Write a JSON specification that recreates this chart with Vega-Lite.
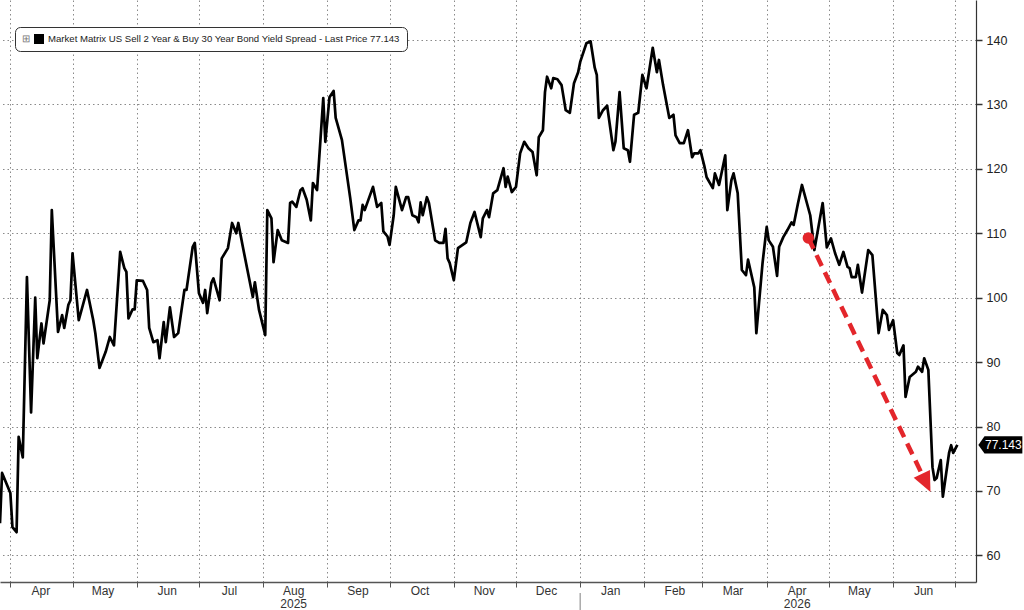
{
  "$schema": "https://vega.github.io/schema/vega-lite/v6.json",
  "width": 976,
  "height": 582,
  "autosize": "none",
  "padding": {"left": 0, "top": 0, "right": 48, "bottom": 28},
  "background": "#ffffff",
  "config": {"view": {"stroke": null}, "font": "Liberation Sans"},
  "layer": [
    {
      "data": {
        "values": [
          {"date": "2025-03-27", "value": 65.0}, {"date": "2025-03-28", "value": 72.8}, {"date": "2025-04-01", "value": 69.7},
          {"date": "2025-04-02", "value": 64.4}, {"date": "2025-04-04", "value": 63.6}, {"date": "2025-04-05", "value": 78.4},
          {"date": "2025-04-07", "value": 75.2}, {"date": "2025-04-09", "value": 103.2}, {"date": "2025-04-11", "value": 82.2},
          {"date": "2025-04-13", "value": 100.0}, {"date": "2025-04-14", "value": 90.6}, {"date": "2025-04-16", "value": 96.0},
          {"date": "2025-04-17", "value": 92.9}, {"date": "2025-04-20", "value": 99.6}, {"date": "2025-04-21", "value": 113.6},
          {"date": "2025-04-24", "value": 94.7}, {"date": "2025-04-26", "value": 97.3}, {"date": "2025-04-27", "value": 95.3},
          {"date": "2025-04-29", "value": 98.9}, {"date": "2025-04-30", "value": 99.6}, {"date": "2025-05-01", "value": 106.9},
          {"date": "2025-05-04", "value": 96.5}, {"date": "2025-05-08", "value": 101.2}, {"date": "2025-05-11", "value": 96.5},
          {"date": "2025-05-12", "value": 94.5}, {"date": "2025-05-14", "value": 89.1}, {"date": "2025-05-17", "value": 91.6},
          {"date": "2025-05-19", "value": 93.9}, {"date": "2025-05-21", "value": 92.6}, {"date": "2025-05-24", "value": 107.1},
          {"date": "2025-05-26", "value": 104.6}, {"date": "2025-05-27", "value": 104.0}, {"date": "2025-05-28", "value": 96.8},
          {"date": "2025-05-30", "value": 98.2}, {"date": "2025-05-31", "value": 98.2}, {"date": "2025-06-01", "value": 102.7},
          {"date": "2025-06-04", "value": 102.6}, {"date": "2025-06-06", "value": 101.2}, {"date": "2025-06-07", "value": 95.3},
          {"date": "2025-06-09", "value": 93.1}, {"date": "2025-06-11", "value": 93.4}, {"date": "2025-06-12", "value": 90.6},
          {"date": "2025-06-14", "value": 96.2}, {"date": "2025-06-15", "value": 93.1}, {"date": "2025-06-17", "value": 98.5},
          {"date": "2025-06-19", "value": 93.9}, {"date": "2025-06-21", "value": 94.5}, {"date": "2025-06-24", "value": 101.2},
          {"date": "2025-06-25", "value": 101.2}, {"date": "2025-06-28", "value": 107.9}, {"date": "2025-06-29", "value": 108.5},
          {"date": "2025-07-01", "value": 100.7}, {"date": "2025-07-03", "value": 99.2}, {"date": "2025-07-04", "value": 101.2},
          {"date": "2025-07-05", "value": 97.6}, {"date": "2025-07-07", "value": 102.3}, {"date": "2025-07-08", "value": 103.0},
          {"date": "2025-07-11", "value": 99.6}, {"date": "2025-07-12", "value": 106.1}, {"date": "2025-07-15", "value": 107.7},
          {"date": "2025-07-17", "value": 111.6}, {"date": "2025-07-19", "value": 110.0}, {"date": "2025-07-20", "value": 111.6},
          {"date": "2025-07-22", "value": 108.2}, {"date": "2025-07-27", "value": 100.1}, {"date": "2025-07-28", "value": 102.4},
          {"date": "2025-07-30", "value": 98.1}, {"date": "2025-08-02", "value": 94.2}, {"date": "2025-08-03", "value": 113.6},
          {"date": "2025-08-05", "value": 112.3}, {"date": "2025-08-06", "value": 105.5}, {"date": "2025-08-08", "value": 110.5},
          {"date": "2025-08-10", "value": 108.9}, {"date": "2025-08-13", "value": 108.5}, {"date": "2025-08-14", "value": 114.7},
          {"date": "2025-08-15", "value": 114.9}, {"date": "2025-08-17", "value": 114.1}, {"date": "2025-08-19", "value": 116.7},
          {"date": "2025-08-20", "value": 117.0}, {"date": "2025-08-22", "value": 115.2}, {"date": "2025-08-24", "value": 112.0},
          {"date": "2025-08-25", "value": 117.8}, {"date": "2025-08-27", "value": 116.7}, {"date": "2025-08-30", "value": 131.0},
          {"date": "2025-08-31", "value": 124.2}, {"date": "2025-09-02", "value": 131.1}, {"date": "2025-09-04", "value": 132.1},
          {"date": "2025-09-05", "value": 127.9}, {"date": "2025-09-08", "value": 124.5}, {"date": "2025-09-12", "value": 115.5},
          {"date": "2025-09-14", "value": 110.5}, {"date": "2025-09-16", "value": 112.0}, {"date": "2025-09-17", "value": 112.0},
          {"date": "2025-09-18", "value": 114.4}, {"date": "2025-09-19", "value": 113.6}, {"date": "2025-09-23", "value": 117.2},
          {"date": "2025-09-25", "value": 114.1}, {"date": "2025-09-27", "value": 114.7}, {"date": "2025-09-28", "value": 110.3},
          {"date": "2025-09-30", "value": 109.5}, {"date": "2025-10-01", "value": 108.2}, {"date": "2025-10-03", "value": 112.8},
          {"date": "2025-10-04", "value": 117.2}, {"date": "2025-10-07", "value": 113.6}, {"date": "2025-10-09", "value": 115.6},
          {"date": "2025-10-10", "value": 115.6}, {"date": "2025-10-12", "value": 112.8}, {"date": "2025-10-14", "value": 112.5},
          {"date": "2025-10-15", "value": 111.7}, {"date": "2025-10-16", "value": 114.8}, {"date": "2025-10-17", "value": 112.8},
          {"date": "2025-10-19", "value": 115.6}, {"date": "2025-10-20", "value": 114.7}, {"date": "2025-10-23", "value": 108.9},
          {"date": "2025-10-25", "value": 108.5}, {"date": "2025-10-27", "value": 108.5}, {"date": "2025-10-28", "value": 110.7},
          {"date": "2025-10-29", "value": 106.1}, {"date": "2025-10-30", "value": 105.4}, {"date": "2025-11-01", "value": 102.7},
          {"date": "2025-11-03", "value": 107.7}, {"date": "2025-11-07", "value": 108.6}, {"date": "2025-11-09", "value": 111.6},
          {"date": "2025-11-11", "value": 113.3}, {"date": "2025-11-14", "value": 109.4}, {"date": "2025-11-15", "value": 112.3},
          {"date": "2025-11-17", "value": 113.6}, {"date": "2025-11-18", "value": 112.5}, {"date": "2025-11-20", "value": 116.2},
          {"date": "2025-11-22", "value": 116.7}, {"date": "2025-11-25", "value": 120.1}, {"date": "2025-11-26", "value": 117.2},
          {"date": "2025-11-27", "value": 118.8}, {"date": "2025-11-29", "value": 116.4}, {"date": "2025-12-01", "value": 117.2},
          {"date": "2025-12-03", "value": 122.4}, {"date": "2025-12-05", "value": 124.2}, {"date": "2025-12-07", "value": 123.2},
          {"date": "2025-12-09", "value": 122.6}, {"date": "2025-12-11", "value": 119.0}, {"date": "2025-12-12", "value": 124.9},
          {"date": "2025-12-14", "value": 126.0}, {"date": "2025-12-15", "value": 131.9}, {"date": "2025-12-16", "value": 134.3},
          {"date": "2025-12-18", "value": 132.5}, {"date": "2025-12-19", "value": 134.1}, {"date": "2025-12-21", "value": 133.9},
          {"date": "2025-12-23", "value": 133.0}, {"date": "2025-12-25", "value": 129.1}, {"date": "2025-12-27", "value": 128.7},
          {"date": "2025-12-29", "value": 133.3}, {"date": "2025-12-31", "value": 135.0}, {"date": "2026-01-01", "value": 136.6},
          {"date": "2026-01-04", "value": 139.5}, {"date": "2026-01-06", "value": 139.8}, {"date": "2026-01-08", "value": 135.7},
          {"date": "2026-01-09", "value": 134.6}, {"date": "2026-01-10", "value": 127.9}, {"date": "2026-01-12", "value": 129.1},
          {"date": "2026-01-14", "value": 129.8}, {"date": "2026-01-17", "value": 122.9}, {"date": "2026-01-18", "value": 124.2},
          {"date": "2026-01-20", "value": 131.9}, {"date": "2026-01-22", "value": 123.2}, {"date": "2026-01-24", "value": 122.9},
          {"date": "2026-01-25", "value": 121.1}, {"date": "2026-01-27", "value": 128.4}, {"date": "2026-01-29", "value": 128.7},
          {"date": "2026-01-31", "value": 134.6}, {"date": "2026-02-02", "value": 132.5}, {"date": "2026-02-05", "value": 138.8},
          {"date": "2026-02-07", "value": 135.0}, {"date": "2026-02-08", "value": 136.9}, {"date": "2026-02-10", "value": 133.0},
          {"date": "2026-02-13", "value": 127.9}, {"date": "2026-02-15", "value": 128.4}, {"date": "2026-02-16", "value": 125.2},
          {"date": "2026-02-18", "value": 124.0}, {"date": "2026-02-20", "value": 124.0}, {"date": "2026-02-22", "value": 126.0},
          {"date": "2026-02-24", "value": 121.8}, {"date": "2026-02-25", "value": 122.4}, {"date": "2026-02-27", "value": 122.4},
          {"date": "2026-02-28", "value": 122.9}, {"date": "2026-03-02", "value": 120.3}, {"date": "2026-03-03", "value": 118.7},
          {"date": "2026-03-06", "value": 117.0}, {"date": "2026-03-07", "value": 119.3}, {"date": "2026-03-09", "value": 117.5},
          {"date": "2026-03-12", "value": 122.1}, {"date": "2026-03-13", "value": 113.6}, {"date": "2026-03-15", "value": 118.3},
          {"date": "2026-03-16", "value": 119.3}, {"date": "2026-03-18", "value": 116.2}, {"date": "2026-03-20", "value": 104.3},
          {"date": "2026-03-22", "value": 103.5}, {"date": "2026-03-23", "value": 105.9}, {"date": "2026-03-26", "value": 101.6},
          {"date": "2026-03-27", "value": 94.5}, {"date": "2026-03-30", "value": 105.4}, {"date": "2026-04-01", "value": 111.0},
          {"date": "2026-04-02", "value": 108.9}, {"date": "2026-04-04", "value": 107.9}, {"date": "2026-04-06", "value": 103.4},
          {"date": "2026-04-07", "value": 107.9}, {"date": "2026-04-09", "value": 109.4}, {"date": "2026-04-11", "value": 110.5},
          {"date": "2026-04-13", "value": 111.7}, {"date": "2026-04-14", "value": 111.3}, {"date": "2026-04-16", "value": 114.5},
          {"date": "2026-04-18", "value": 117.5}, {"date": "2026-04-22", "value": 112.8}, {"date": "2026-04-24", "value": 107.4},
          {"date": "2026-04-28", "value": 114.7}, {"date": "2026-04-30", "value": 107.8}, {"date": "2026-05-02", "value": 109.2},
          {"date": "2026-05-04", "value": 106.9}, {"date": "2026-05-06", "value": 105.1}, {"date": "2026-05-08", "value": 107.1},
          {"date": "2026-05-10", "value": 104.8}, {"date": "2026-05-11", "value": 104.6}, {"date": "2026-05-12", "value": 103.2},
          {"date": "2026-05-14", "value": 103.2}, {"date": "2026-05-15", "value": 105.1}, {"date": "2026-05-17", "value": 100.8},
          {"date": "2026-05-20", "value": 107.4}, {"date": "2026-05-22", "value": 106.6}, {"date": "2026-05-25", "value": 94.5},
          {"date": "2026-05-27", "value": 98.1}, {"date": "2026-05-29", "value": 97.3}, {"date": "2026-05-30", "value": 95.0},
          {"date": "2026-06-01", "value": 96.5}, {"date": "2026-06-03", "value": 91.4}, {"date": "2026-06-04", "value": 91.1},
          {"date": "2026-06-06", "value": 92.6}, {"date": "2026-06-07", "value": 84.6}, {"date": "2026-06-09", "value": 87.7},
          {"date": "2026-06-12", "value": 88.5}, {"date": "2026-06-13", "value": 89.3}, {"date": "2026-06-15", "value": 88.5},
          {"date": "2026-06-16", "value": 90.6}, {"date": "2026-06-18", "value": 88.8}, {"date": "2026-06-20", "value": 73.7},
          {"date": "2026-06-21", "value": 71.7}, {"date": "2026-06-22", "value": 72.0}, {"date": "2026-06-24", "value": 74.8},
          {"date": "2026-06-25", "value": 69.1}, {"date": "2026-06-28", "value": 75.9}, {"date": "2026-06-29", "value": 77.1},
          {"date": "2026-06-30", "value": 75.9}, {"date": "2026-07-02", "value": 77.143}
        ]
      },
      "mark": {"type": "line", "strokeWidth": 2.7, "strokeJoin": "round"},
      "encoding": {
        "x": {
          "field": "date",
          "type": "temporal",
          "scale": {"domain": [{"year": 2025, "month": 3, "date": 27}, {"year": 2026, "month": 7, "date": 11}]},
          "axis": {
            "orient": "bottom",
            "title": null,
            "tickCount": {"interval": "month", "step": 1},
            "labelExpr": "year(datum.value) == 2026 && month(datum.value) == 6 ? '' : ((year(datum.value) == 2025 && month(datum.value) == 7) || (year(datum.value) == 2026 && month(datum.value) == 3)) ? [timeFormat(datum.value, '%b'), timeFormat(datum.value, '%Y')] : timeFormat(datum.value, '%b')",
            "labelOffset": 30,
            "labelOverlap": false,
            "labelFlush": false,
            "labelBound": false,
            "labelPadding": -2,
            "labelFontSize": 12,
            "labelLineHeight": 13,
            "labelColor": "#333333",
            "tickSize": 5,
            "tickColor": "#555555",
            "domainColor": "#555555",
            "domainWidth": 1.5,
            "grid": true,
            "gridColor": "#8a8a8a",
            "gridDash": [1.5, 3],
            "gridWidth": 1
          }
        },
        "y": {
          "field": "value",
          "type": "quantitative",
          "scale": {"domain": [55.87, 146.21], "nice": false, "zero": false},
          "axis": {
            "orient": "right",
            "title": null,
            "values": [60, 65, 70, 75, 80, 85, 90, 95, 100, 105, 110, 115, 120, 125, 130, 135, 140, 145],
            "labelExpr": "datum.value % 10 === 0 ? datum.label : ''",
            "labelPadding": 4,
            "labelFontSize": 12.5,
            "labelColor": "#222222",
            "tickSize": {"condition": {"test": "datum.value % 10 === 0", "value": 6}, "value": 4},
            "tickWidth": 1.5,
            "tickColor": "#333333",
            "domainColor": "#333333",
            "domainWidth": 1.2,
            "grid": true,
            "gridColor": "#8a8a8a",
            "gridDash": [1.5, 3],
            "gridOpacity": {"condition": {"test": "datum.value % 10 === 0", "value": 1}, "value": 0}
          }
        },
        "color": {
          "datum": "Market Matrix US Sell 2 Year & Buy 30 Year Bond Yield Spread - Last Price 77.143",
          "scale": {"range": ["#000000"]},
          "legend": {
            "orient": "none",
            "legendX": 15,
            "legendY": 27,
            "title": "⊞",
            "titleOrient": "left",
            "titleFontSize": 10,
            "titleFontWeight": "normal",
            "titleColor": "#777777",
            "titlePadding": 4,
            "symbolType": "square",
            "symbolSize": 100,
            "symbolFillColor": "#000000",
            "symbolStrokeColor": "#000000",
            "symbolStrokeWidth": 0,
            "labelFont": "Liberation Sans",
            "labelFontSize": 9.6,
            "labelColor": "#222222",
            "labelLimit": 800,
            "strokeColor": "#333333",
            "cornerRadius": 5,
            "padding": 7,
            "fillColor": "#ffffff"
          }
        }
      }
    },
    {
      "data": {"values": [{"x": "2026-01-01", "ya": 54.17, "yb": 51.53}]},
      "mark": {"type": "rule", "color": "#aaaaaa", "strokeWidth": 1.5},
      "encoding": {
        "x": {"field": "x", "type": "temporal", "title": null},
        "y": {"field": "ya", "type": "quantitative", "title": null},
        "y2": {"field": "yb"}
      }
    },
    {
      "data": {"values": [{"x0": "2026-04-21T02:00:00Z", "y0": 109.27, "x1": "2026-06-15T17:00:00Z", "y1": 72.08}]},
      "mark": {"type": "rule", "color": "#e3262b", "strokeWidth": 4.5, "strokeDash": [12, 7]},
      "encoding": {
        "x": {"field": "x0", "type": "temporal", "title": null},
        "y": {"field": "y0", "type": "quantitative", "title": null},
        "x2": {"field": "x1"},
        "y2": {"field": "y1"}
      }
    },
    {
      "data": {"values": [{"x": "2026-06-16T22:30:00Z", "y": 71.24}]},
      "mark": {"type": "point", "shape": "M -0.9 -1 L 0.9 -1 L 0 1 Z", "size": 400, "filled": true, "color": "#e3262b", "opacity": 1, "angle": 334.3},
      "encoding": {
        "x": {"field": "x", "type": "temporal", "title": null},
        "y": {"field": "y", "type": "quantitative", "title": null}
      }
    },
    {
      "data": {"values": [{"x": "2026-04-21T02:00:00Z", "y": 109.27}]},
      "mark": {"type": "point", "shape": "circle", "size": 130, "filled": true, "color": "#e3262b", "opacity": 1},
      "encoding": {
        "x": {"field": "x", "type": "temporal", "title": null},
        "y": {"field": "y", "type": "quantitative", "title": null}
      }
    },
    {
      "data": {"values": [{"date": "2026-07-02", "value": 77.143, "label": "77.143"}]},
      "encoding": {
        "x": {"field": "date", "type": "temporal", "title": null},
        "y": {"field": "value", "type": "quantitative", "title": null}
      },
      "layer": [
        {"mark": {"type": "point", "shape": "M -1 0 L -0.72 -0.39 L 1 -0.39 L 1 0.39 L -0.72 0.39 Z", "size": 1936, "filled": true, "color": "#000000", "opacity": 1, "xOffset": 43}},
        {"mark": {"type": "text", "color": "#ffffff", "fontSize": 12, "xOffset": 46, "align": "center", "baseline": "middle"}, "encoding": {"text": {"field": "label"}}}
      ]
    }
  ]
}
